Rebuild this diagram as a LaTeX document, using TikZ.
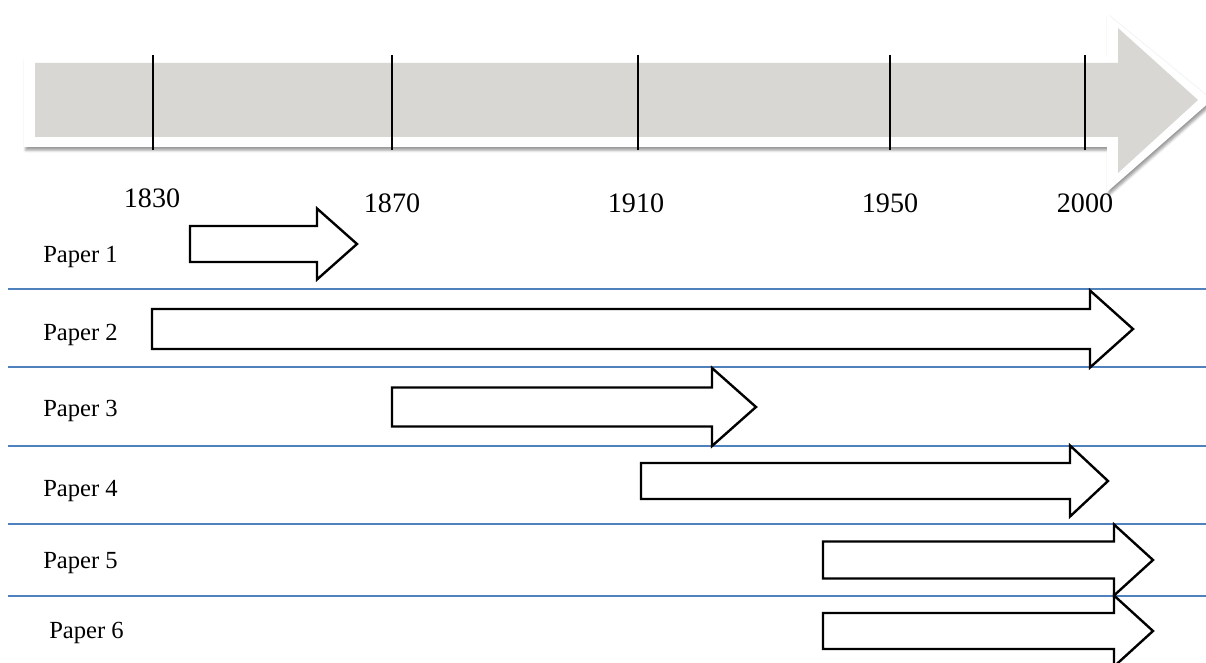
\documentclass[tikz,border=0pt]{standalone}
\usepackage{fontspec}
\setmainfont{Liberation Serif}
\usepackage{xcolor}
\definecolor{axisgray}{RGB}{217,215,212}
\definecolor{laneblue}{RGB}{79,129,189}
\usepackage{tikz}
\usetikzlibrary{positioning,shadows.blur}
\tikzset{
  lane/.style    ={draw=laneblue,line width=0.4mm},
  tickmark/.style={draw=black,line width=0.7mm},
  paperarr/.style={draw=black,fill=white,line width=0.6mm,line join=miter},
  yearlabel/.style={font=\fontsize{20}{23}\selectfont,inner sep=0pt},
  rowlabel/.style ={font=\fontsize{17.5}{20}\selectfont,anchor=west,inner sep=0pt},
}
% start, head, tip, middle, body half height, head half height
\newcommand{\paperarrow}[6]{%
  \draw[paperarr] (#1,#4-#5) -- (#2,#4-#5) -- (#2,#4-#6) -- (#3,#4)
    -- (#2,#4+#6) -- (#2,#4+#5) -- (#1,#4+#5) -- cycle;}

\begin{document}
\begin{tikzpicture}[x=0.25mm,y=-0.25mm]
  \useasboundingbox (0,0) rectangle (1206,663);

  % ---- time axis -------------------------------------------------------
  \fill[white,blur shadow={shadow xshift=0.4mm,shadow yshift=-0.8mm,shadow opacity=40}]
    (24,57) -- (1107,57) -- (1107,14) -- (1212,100) -- (1107,192)
    -- (1107,147) -- (24,147) -- cycle;
  \fill[axisgray] (35,63) -- (1118,63) -- (1118,28) -- (1198,100)
    -- (1118,173) -- (1118,137) -- (35,137) -- cycle;
  \draw[tickmark] (153,55) -- (153,150);
  \draw[tickmark] (392,55) -- (392,150);
  \draw[tickmark] (638,55) -- (638,150);
  \draw[tickmark] (890,55) -- (890,150);
  \draw[tickmark] (1085,55) -- (1085,150);

  \node[yearlabel] (y1830) at (152,198) {1830};
  \node[yearlabel] (y1870) at (392,203) {1870};
  \node[yearlabel] (y1910) at (636,203) {1910};
  \node[yearlabel] (y1950) at (890,203) {1950};
  \node[yearlabel] (y2000) at (1085,203) {2000};

  % ---- lanes -----------------------------------------------------------
  \draw[lane] (8,289) -- (1206,289);
  \draw[lane] (8,367) -- (1206,367);
  \draw[lane] (8,446) -- (1206,446);
  \draw[lane] (8,524) -- (1206,524);
  \draw[lane] (8,596) -- (1206,596);

  \node[rowlabel] (p1) at (43,257) {Paper 1};
  \node[rowlabel] (p2) at (43,335) {Paper 2};
  \node[rowlabel] (p3) at (43,411) {Paper 3};
  \node[rowlabel] (p4) at (43,491) {Paper 4};
  \node[rowlabel] (p5) at (43,563) {Paper 5};
  \node[rowlabel] (p6) at (49,633) {Paper 6};

  % ---- coverage of each paper -------------------------------------------
  \paperarrow{190}{317}{357}{244}{18}{35.5}
  \paperarrow{152}{1090}{1133}{329}{20}{38.5}
  \paperarrow{392}{712}{756}{407}{19.5}{39}
  \paperarrow{641}{1070}{1108}{481}{18}{35.5}
  \paperarrow{823}{1114}{1153}{560}{18.5}{35.5}
  \paperarrow{823}{1114}{1153}{631}{18}{35.5}
\end{tikzpicture}
\end{document}
